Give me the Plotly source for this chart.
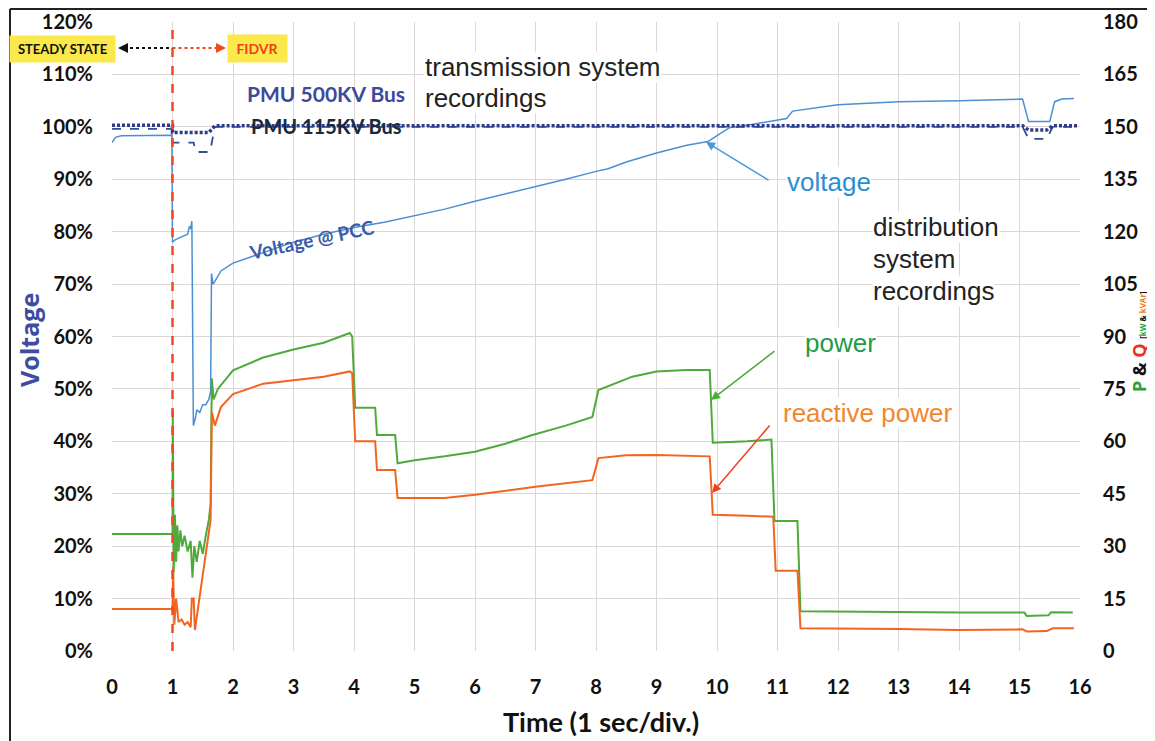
import plotly.graph_objects as go

# ---------------- data ----------------
# Voltage at PCC [% of nominal]
t_pcc = [0, 0.06, 0.15, 0.99, 1.0, 1.05, 1.15, 1.25, 1.28, 1.3, 1.32, 1.345, 1.38, 1.4, 1.45,
         1.5, 1.55, 1.6, 1.63, 1.645, 1.67, 1.7, 1.8, 2.0, 2.5, 3.0, 3.5, 4.0, 4.5, 5.0, 5.5,
         6.0, 6.5, 7.0, 7.5, 8.0, 8.2, 8.5, 9.0, 9.5, 9.85, 10.0, 10.2, 10.6, 11.0, 11.15,
         11.25, 11.6, 12.0, 12.5, 13.0, 14.0, 14.5, 15.05, 15.15, 15.5, 15.58, 15.7, 15.9]
v_pcc = [97, 98, 98.3, 98.4, 78, 78.5, 79, 79.5, 81, 80.5, 82, 43, 44.5, 46, 45.5,
         47, 47, 48, 49.5, 72, 70, 70.5, 72.5, 74, 76, 78, 79.5, 80.8, 81.8, 83, 84.3,
         85.8, 87.2, 88.5, 90, 91.5, 92, 93.3, 95, 96.5, 97.2, 98.3, 99.8, 100.5, 101.3, 101.6,
         103, 103.6, 104.2, 104.5, 104.8, 105, 105.2, 105.3, 101, 101, 104.8, 105.3, 105.4]

# PMU 500 kV bus [%]
t_500 = [0, 1.0, 1.0, 1.6, 1.7, 15.05, 15.15, 15.45, 15.55, 15.95]
v_500 = [100.3, 100.3, 98.9, 98.9, 100.2, 100.2, 99.4, 99.4, 100.2, 100.2]

# PMU 115 kV bus [%]
t_115 = [0, 1.0, 1.0, 1.35, 1.38, 1.62, 1.7, 15.05, 15.15, 15.45, 15.55, 15.95]
v_115 = [99.6, 99.6, 97.0, 97.0, 95.2, 95.2, 100.0, 100.0, 97.7, 97.7, 100.0, 100.0]

# Active power P [kW] (right axis)
t_p = [0, 1.0, 1.005, 1.02, 1.04, 1.06, 1.08, 1.1, 1.13, 1.16, 1.2, 1.25, 1.3, 1.33, 1.36,
       1.4, 1.45, 1.5, 1.55, 1.6, 1.63, 1.65, 1.68, 1.75, 2.0, 2.5, 3.0, 3.5, 3.93, 3.97,
       4.02, 4.35, 4.38, 4.68, 4.72, 5.0, 5.5, 6.0, 6.5, 6.95, 7.5, 7.94, 8.04, 8.6, 9.0,
       9.5, 9.88, 9.93, 10.5, 10.9, 10.95, 11.33, 11.38, 12.0, 13.0, 14.0, 15.08, 15.12,
       15.48, 15.52, 15.88]
p_kw = [33.5, 33.5, 69, 22.5, 39, 25.5, 36, 28.5, 34.5, 30, 33, 28.5, 31.5, 21, 30,
        25.5, 31.5, 27.8, 33, 37.5, 42, 78, 72, 75, 80.3, 84, 86.3, 88.2, 91, 90,
        69.6, 69.6, 61.8, 61.8, 53.7, 54.6, 55.7, 57, 59.3, 61.8, 64.5, 67, 74.7, 78.5, 80,
        80.4, 80.4, 59.6, 60, 60.5, 37.2, 37.2, 11.4, 11.3, 11.1, 11, 11, 10,
        10.2, 11.1, 11]

# Reactive power Q [kVAr] (right axis)
t_q = [0, 1.0, 1.01, 1.03, 1.06, 1.1, 1.15, 1.2, 1.25, 1.3, 1.32, 1.35, 1.37, 1.42, 1.5,
       1.58, 1.63, 1.65, 1.7, 1.8, 2.0, 2.5, 3.0, 3.5, 3.93, 3.97, 4.02, 4.35, 4.38, 4.68,
       4.72, 5.5, 6.0, 7.0, 7.94, 8.04, 8.5, 9.0, 9.88, 9.93, 10.5, 10.93, 10.97, 11.33,
       11.38, 12.0, 13.0, 14.0, 15.05, 15.12, 15.45, 15.55, 15.9]
q_kvar = [12, 12, 24, 7.5, 15, 8.3, 9, 7.5, 8.3, 6.8, 15, 15, 6, 12, 22.5,
          31.5, 37.5, 68.3, 64.5, 69.8, 73.5, 76.5, 77.6, 78.5, 80, 79.5, 60, 60, 51.8, 51.8,
          43.8, 43.8, 44.7, 47, 48.9, 55.2, 56, 56.1, 55.7, 39, 38.7, 38.4, 23, 23,
          6.5, 6.5, 6.3, 6.0, 6.2, 5.6, 5.7, 6.5, 6.5]

x_ticks = list(range(0, 17))
left_ticks = list(range(0, 121, 10))
left_labels = [f"{v}%" for v in left_ticks]
right_ticks = list(range(0, 181, 15))

# ---------------- helpers (reference pixel -> axis / paper coordinates for labels) ----------------
OFF = 8  # the page body margin offsets the figure by 8 px
W, H = 1155 - OFF, 741 - OFF
X0, X1, Y0, Y1 = 112, 1080, 651, 22   # plot area in reference pixels
def tx(px):
    return (px - X0) / (X1 - X0) * 16
def vy(py):
    return (Y0 - py) / (Y0 - Y1) * 120
def xp(px):
    return (px - X0) / (X1 - X0)
def yp(py):
    return (Y0 - py) / (Y0 - Y1)

TICKFONT = dict(family="Lato, Open Sans, sans-serif", size=20, color="#111111", weight="bold")

fig = go.Figure()
fig.add_trace(go.Scatter(x=t_p, y=p_kw, yaxis="y2", mode="lines", name="P",
                         line=dict(color="#4faa3c", width=2)))
fig.add_trace(go.Scatter(x=t_q, y=q_kvar, yaxis="y2", mode="lines", name="Q",
                         line=dict(color="#f2651f", width=2)))
fig.add_trace(go.Scatter(x=t_pcc, y=v_pcc, mode="lines", name="Voltage @ PCC",
                         line=dict(color="#4a8fd4", width=1.5)))
fig.add_trace(go.Scatter(x=t_115, y=v_115, mode="lines", name="PMU 115KV Bus",
                         line=dict(color="#2d4f96", width=1.8, dash="dash")))
fig.add_trace(go.Scatter(x=t_500, y=v_500, mode="lines", name="PMU 500KV Bus",
                         line=dict(color="#2e3a8c", width=3.5, dash="3px,2px")))

shapes = [
    # FIDVR start marker
    dict(type="line", xref="x", yref="paper", x0=1, x1=1, y0=0, y1=1,
         line=dict(color="#f04a1e", width=2.5, dash="dash"), layer="above"),
    # steady state <- and -> FIDVR dotted arrows
    dict(type="line", xref="x", yref="y", x0=tx(124), x1=1, y0=vy(48), y1=vy(48),
         line=dict(color="#111111", width=2, dash="dot"), layer="above"),
    dict(type="line", xref="x", yref="y", x0=1, x1=tx(222), y0=vy(48), y1=vy(48),
         line=dict(color="#f04a1e", width=2, dash="dot"), layer="above"),
    # picture frame
    dict(type="line", xref="paper", yref="paper", x0=xp(10), x1=xp(10), y0=yp(745), y1=yp(9),
         line=dict(color="#222222", width=2)),
    dict(type="line", xref="paper", yref="paper", x0=xp(10), x1=xp(1160), y0=yp(9), y1=yp(9),
         line=dict(color="#222222", width=2)),
]

ann = []
def label(text, px, py, color="#222222", size=26, family="Liberation Sans, Arial, sans-serif",
          weight="normal", xanchor="left", bg="rgba(255,255,255,1)", angle=0):
    ann.append(dict(text=text, xref="paper", yref="paper", x=xp(px), y=yp(py),
                    xanchor=xanchor, yanchor="middle", showarrow=False, textangle=angle,
                    font=dict(family=family, size=size, color=color, weight=weight),
                    bgcolor=bg, borderpad=0))

def arrow(x_head, y_head, x_tail, y_tail, color, width=1.5, head=2, size=1.2):
    ann.append(dict(text="", xref="x", yref="y", axref="x", ayref="y",
                    x=x_head, y=y_head, ax=x_tail, ay=y_tail, showarrow=True,
                    arrowhead=head, arrowsize=size, arrowwidth=width, arrowcolor=color))

label("transmission system", 424, 67)
label("recordings", 424, 98)
label("distribution", 872, 227)
label("system", 872, 259)
label("recordings", 872, 291)
label("voltage", 786, 182, color="#2a8fcf")
label("power", 804, 343, color="#1f9a45")
label("reactive power", 782, 413, color="#f4862c")
label("PMU 500KV Bus", 326, 93, color="#3b4a9c", size=21, family="Lato, sans-serif",
      weight="bold", xanchor="center", bg="rgba(0,0,0,0)")
label("PMU 115KV Bus", 326, 126, color="#1b2a3a", size=20, family="Lato, sans-serif",
      weight="bold", xanchor="center", bg="rgba(0,0,0,0)")
label("Voltage @ PCC", 311, 240, color="#3a5ca8", size=19, family="Lato, sans-serif",
      weight="bold", xanchor="center", bg="rgba(0,0,0,0)", angle=-12)

# arrows to the curves
arrow(tx(706), vy(142), tx(770), vy(181), "#4a9ad4")
arrow(tx(711), vy(400), tx(776), vy(350), "#4faa3c")
arrow(tx(712), vy(493), tx(771), vy(424), "#f0401e")
# dotted arrowheads
arrow(tx(118), vy(48), tx(126), vy(48), "#111111", width=2, head=2, size=1)
arrow(tx(226), vy(48), tx(218), vy(48), "#f04a1e", width=2, head=2, size=1)

# yellow boxes
ann.append(dict(text="STEADY STATE", xref="paper", yref="paper", x=xp(62.5), y=yp(48.5),
                xanchor="center", yanchor="middle",
                showarrow=False, width=101, height=22, bgcolor="#fbe84a", borderpad=2,
                font=dict(family="Lato, sans-serif", size=13, color="#111111", weight="bold")))
ann.append(dict(text="FIDVR", xref="paper", yref="paper", x=xp(257.5), y=yp(48.5),
                xanchor="center", yanchor="middle",
                showarrow=False, width=55, height=23, bgcolor="#fbe84a", borderpad=2,
                font=dict(family="Lato, sans-serif", size=14, color="#ee3f1e", weight="bold")))

# axis titles
ann.append(dict(text="Voltage", xref="paper", yref="paper", x=xp(29), y=yp(340),
                xanchor="center", yanchor="middle", showarrow=False, textangle=-90,
                font=dict(family="Open Sans, sans-serif", size=25, color="#3d4ea0", weight="bold")))
ann.append(dict(text="Time (1 sec/div.)", xref="paper", yref="paper", x=xp(601), y=yp(722),
                xanchor="center", yanchor="middle", showarrow=False,
                font=dict(family="Lato, sans-serif", size=27, color="#111111", weight="bold")))
ann.append(dict(text="<span style='color:#2e9e3a'>P</span> &amp; <span style='color:#e8321f'>Q</span>"
                     " <span style='font-size:8px'>[<span style='color:#2e9e3a'>kW</span> &amp; "
                     "<span style='color:#f07b22'>kVAr</span>]</span>",
                xref="paper", yref="paper", x=xp(1139), y=yp(342), showarrow=False,
                xanchor="center", yanchor="middle", textangle=-90, borderpad=0,
                font=dict(family="Open Sans, sans-serif", size=18, color="#111111", weight="bold")))

GRID = "#ddd6d6"
fig.update_layout(
    width=W, height=H, autosize=False,
    margin=dict(l=X0 - OFF, r=W - (X1 - OFF), t=Y1 - OFF, b=H - (Y0 - OFF), autoexpand=False),
    paper_bgcolor="white", plot_bgcolor="white",
    showlegend=False,
    xaxis=dict(range=[0, 16], tickvals=x_ticks, showgrid=True, gridcolor=GRID, gridwidth=1,
               zeroline=False, showline=False, ticks="", tickfont=TICKFONT,
               ticklabelstandoff=22, automargin=False),
    yaxis=dict(range=[0, 120], tickvals=left_ticks, ticktext=left_labels, showgrid=True,
               gridcolor=GRID, gridwidth=1, zeroline=False, showline=False, ticks="",
               tickfont=TICKFONT, ticklabelstandoff=18, automargin=False),
    yaxis2=dict(range=[0, 180], tickvals=right_ticks, overlaying="y", side="right",
                showgrid=False, zeroline=False, showline=False, ticks="",
                tickfont=TICKFONT, ticklabelstandoff=22, automargin=False),
    shapes=shapes,
    annotations=ann,
)

fig.write_html("out.html")
